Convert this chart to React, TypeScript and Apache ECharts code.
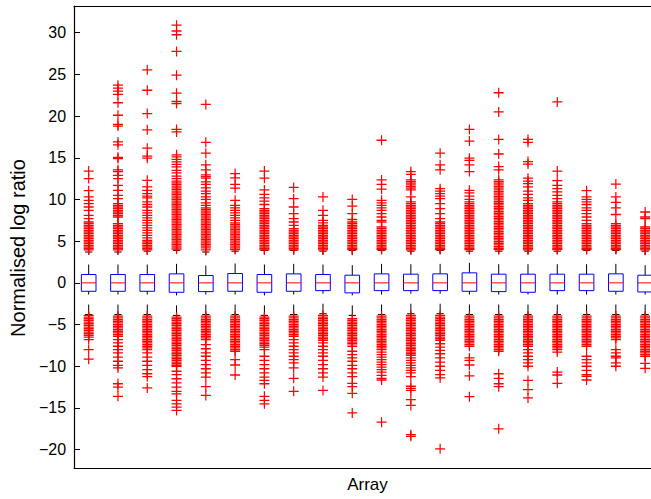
import React, { useEffect, useRef } from "react";
import * as echarts from "echarts";

// ---- data ----
const arrays = [1, 2, 3, 4, 5, 6, 7, 8, 9, 10, 11, 12, 13, 14, 15, 16, 17, 18, 19, 20];
const q1 = [-1.01, -1.01, -1.01, -1.13, -1.05, -1.01, -1.13, -1.01, -0.93, -1.2, -0.93, -0.93, -0.93, -1.01, -1.05, -1.13, -0.93, -0.93, -1.01, -1.09];
const medians = [0, 0, 0, 0, 0, 0, 0, 0, 0, 0, 0, 0, 0, 0, 0, 0, 0, 0, 0, 0];
const q3 = [1.0, 1.0, 1.0, 1.08, 0.88, 1.12, 1.0, 1.08, 1.0, 0.92, 1.08, 1.04, 1.08, 1.2, 1.04, 1.04, 1.04, 1.04, 1.08, 0.92];
const lowerWhisker = [-3.8, -3.8, -3.8, -3.9, -3.8, -3.8, -3.9, -3.8, -3.7, -3.9, -3.8, -3.7, -3.7, -3.8, -3.8, -3.8, -3.8, -3.8, -3.8, -3.8];
const upperWhisker = [3.7, 3.7, 3.8, 3.9, 3.7, 3.8, 3.9, 3.9, 3.8, 3.9, 3.9, 3.8, 3.9, 3.8, 3.8, 3.8, 3.8, 3.9, 3.9, 3.8];

const upperOutliers: number[][] = [
  [13.4, 12.5, 11.05, 10.3, 9.9, 9.5, 9.1, 8.7, 8.1, 7.7, 7.3, 7.1, 6.9, 6.7, 6.5, 6.3, 6.1, 5.9, 5.7, 5.5, 5.3, 5.1, 4.9, 4.7, 4.5, 4.3, 4.1, 3.95],
  [23.7, 23.35, 23.0, 22.6, 21.6, 20.1, 19.0, 18.8, 16.9, 16.55, 15.05, 14.9, 13.55, 13.35, 12.9, 12.5, 11.7, 11.1, 10.5, 10.1, 9.5, 9.3, 9.1, 8.9, 8.7, 8.5, 8.3, 8.1, 7.9, 7.1, 6.9, 6.7, 6.5, 6.3, 6.1, 5.9, 5.7, 5.5, 5.3, 5.1, 4.9, 4.7, 4.5, 4.3, 4.1, 3.95],
  [25.55, 23.1, 20.3, 18.35, 16.15, 15.2, 14.95, 12.3, 11.5, 11.1, 10.7, 10.4, 10.2, 9.7, 9.4, 9.1, 8.7, 8.4, 8.1, 7.8, 7.5, 7.2, 6.9, 6.6, 6.3, 6.0, 5.7, 5.4, 5.1, 4.9, 4.7, 4.5, 4.3, 4.1, 3.95],
  [30.9, 30.2, 29.75, 27.75, 24.9, 22.75, 21.75, 21.5, 18.4, 18.1, 15.35, 15.1, 14.8, 14.5, 14.2, 13.9, 13.5, 13.2, 12.8, 12.5, 12.2, 12.0, 11.8, 11.6, 11.4, 11.2, 11.0, 10.8, 10.6, 10.4, 10.2, 10.0, 9.8, 9.6, 9.4, 9.2, 9.0, 8.8, 8.6, 8.4, 8.2, 8.0, 7.8, 7.6, 7.4, 7.2, 7.0, 6.8, 6.6, 6.4, 6.2, 6.0, 5.8, 5.6, 5.4, 5.2, 5.0, 4.8, 4.6, 4.4, 4.2, 4.05],
  [21.4, 16.85, 15.55, 14.15, 13.55, 12.95, 12.75, 12.55, 12.1, 11.8, 11.4, 11.0, 10.7, 10.3, 10.0, 9.6, 9.3, 9.0, 8.8, 8.6, 8.4, 8.2, 8.0, 7.8, 7.6, 7.4, 7.2, 7.0, 6.8, 6.6, 6.4, 6.2, 6.0, 5.8, 5.6, 5.4, 5.2, 5.0, 4.8, 4.6, 4.4, 4.2, 3.95],
  [13.1, 12.6, 11.8, 11.35, 9.9, 9.3, 9.0, 8.7, 8.4, 8.1, 7.8, 7.5, 7.2, 7.0, 6.8, 6.6, 6.4, 6.2, 6.0, 5.8, 5.6, 5.4, 5.2, 5.0, 4.8, 4.6, 4.4, 4.2, 4.0],
  [13.4, 12.55, 11.15, 10.6, 10.2, 9.8, 9.4, 8.9, 8.7, 8.5, 8.3, 8.1, 7.9, 7.7, 7.5, 7.3, 7.1, 6.9, 6.7, 6.5, 6.3, 6.1, 5.9, 5.7, 5.5, 5.3, 5.1, 4.9, 4.7, 4.5, 4.3, 4.1, 3.95],
  [11.45, 10.1, 9.1, 8.3, 7.7, 7.3, 6.9, 6.5, 6.3, 6.1, 5.9, 5.7, 5.5, 5.3, 5.1, 4.9, 4.7, 4.5, 4.3, 4.1, 3.95],
  [10.3, 8.7, 8.1, 7.5, 7.2, 6.9, 6.7, 6.5, 6.3, 6.1, 5.9, 5.7, 5.5, 5.3, 5.1, 4.9, 4.7, 4.5, 4.3, 4.1, 3.95],
  [10.0, 9.2, 8.3, 7.6, 7.3, 7.1, 6.9, 6.7, 6.5, 6.3, 6.1, 5.9, 5.7, 5.5, 5.3, 5.1, 4.9, 4.7, 4.5, 4.3, 4.1, 4.0],
  [17.1, 12.35, 11.8, 11.25, 9.9, 9.6, 9.3, 9.0, 8.7, 8.3, 7.9, 7.5, 7.3, 6.7, 6.5, 6.3, 6.1, 5.9, 5.7, 5.5, 5.3, 5.1, 4.9, 4.7, 4.5, 4.3, 4.1, 4.0],
  [13.35, 13.0, 12.35, 12.15, 11.95, 11.75, 11.55, 11.35, 11.15, 10.3, 9.7, 9.5, 9.3, 9.1, 8.9, 8.7, 8.5, 8.3, 8.1, 7.9, 7.7, 7.5, 7.3, 7.1, 6.9, 6.7, 6.5, 6.3, 6.1, 5.9, 5.7, 5.5, 5.3, 5.1, 4.9, 4.7, 4.5, 4.3, 4.1, 3.95],
  [15.55, 14.15, 13.55, 11.3, 11.0, 10.7, 10.4, 10.1, 9.5, 8.9, 8.3, 7.7, 7.3, 7.1, 6.9, 6.7, 6.5, 6.3, 6.1, 5.9, 5.7, 5.5, 5.3, 5.1, 4.9, 4.7, 4.5, 4.3, 4.1, 4.0],
  [18.4, 17.0, 14.95, 14.7, 14.15, 13.35, 11.1, 10.8, 10.4, 10.0, 9.7, 9.5, 9.3, 9.1, 8.9, 8.7, 8.5, 8.3, 8.1, 7.9, 7.7, 7.5, 7.3, 7.1, 6.9, 6.7, 6.5, 6.3, 6.1, 5.9, 5.7, 5.5, 5.3, 5.1, 4.9, 4.7, 4.5, 4.3, 4.1, 4.0],
  [22.8, 20.5, 17.2, 15.45, 13.95, 13.55, 12.35, 12.15, 11.95, 11.75, 11.55, 11.35, 11.15, 10.95, 10.75, 10.55, 10.35, 10.15, 9.95, 9.75, 9.55, 9.35, 9.15, 8.95, 8.75, 8.55, 8.35, 8.15, 7.95, 7.75, 7.55, 7.35, 7.15, 6.95, 6.75, 6.55, 6.35, 6.15, 5.95, 5.75, 5.55, 5.35, 5.15, 4.95, 4.75, 4.55, 4.35, 4.15, 4.0],
  [17.2, 16.85, 14.55, 14.25, 12.55, 12.2, 11.9, 11.5, 11.0, 10.6, 10.2, 9.9, 9.5, 9.3, 9.1, 8.9, 8.7, 8.5, 8.3, 8.1, 7.9, 7.7, 7.5, 7.3, 7.1, 6.9, 6.7, 6.5, 6.3, 6.1, 5.9, 5.7, 5.5, 5.3, 5.1, 4.9, 4.7, 4.5, 4.3, 4.1, 3.95],
  [21.7, 13.4, 12.25, 11.7, 11.3, 10.9, 10.5, 10.1, 9.7, 9.5, 9.3, 9.1, 8.9, 8.7, 8.5, 8.3, 8.1, 7.9, 7.7, 7.5, 7.3, 7.1, 6.9, 6.7, 6.5, 6.3, 6.1, 5.9, 5.7, 5.5, 5.3, 5.1, 4.9, 4.7, 4.5, 4.3, 4.1, 4.0],
  [11.05, 10.3, 10.0, 9.7, 9.4, 9.0, 8.7, 8.3, 7.9, 7.5, 7.1, 6.9, 6.7, 6.5, 6.3, 6.1, 5.9, 5.7, 5.5, 5.3, 5.1, 4.9, 4.7, 4.5, 4.3, 4.1, 4.0],
  [11.85, 10.3, 9.65, 9.0, 8.2, 7.1, 6.9, 6.7, 6.5, 6.3, 6.1, 5.9, 5.7, 5.5, 5.3, 5.1, 4.9, 4.7, 4.5, 4.3, 4.1, 4.0],
  [8.5, 7.9, 7.7, 6.7, 6.5, 6.3, 6.1, 5.9, 5.7, 5.5, 5.3, 5.1, 4.9, 4.7, 4.5, 4.3, 4.1, 3.95],
];

const lowerOutliers: number[][] = [
  [-3.9, -4.1, -4.3, -4.5, -4.7, -4.9, -5.1, -5.3, -5.5, -5.7, -5.9, -6.1, -6.3, -6.5, -6.8, -8.0, -9.15],
  [-4.0, -4.2, -4.4, -4.6, -4.8, -5.0, -5.2, -5.4, -5.6, -5.8, -6.0, -6.2, -6.4, -6.8, -7.2, -7.6, -8.0, -8.4, -8.9, -9.4, -9.9, -10.2, -12.1, -12.5, -13.6],
  [-4.0, -4.2, -4.4, -4.6, -4.8, -5.0, -5.2, -5.4, -5.6, -5.8, -6.0, -6.2, -6.4, -6.6, -6.8, -7.0, -7.2, -7.4, -7.6, -7.8, -8.0, -8.4, -8.9, -9.4, -9.9, -10.4, -10.9, -11.25, -12.6],
  [-4.1, -4.3, -4.5, -4.7, -4.9, -5.1, -5.3, -5.5, -5.7, -5.9, -6.1, -6.3, -6.5, -6.7, -6.9, -7.1, -7.3, -7.5, -7.7, -7.9, -8.1, -8.3, -8.5, -8.7, -8.9, -9.1, -9.3, -9.5, -9.7, -9.9, -10.0, -10.6, -11.0, -11.5, -12.0, -12.5, -13.0, -13.3, -14.1, -14.5, -14.9, -15.3],
  [-4.0, -4.2, -4.4, -4.6, -4.8, -5.0, -5.2, -5.4, -5.6, -5.8, -6.0, -6.2, -6.4, -6.6, -6.8, -7.4, -7.9, -8.4, -8.8, -9.3, -9.8, -10.3, -10.8, -11.3, -12.45, -13.5],
  [-4.0, -4.2, -4.4, -4.6, -4.8, -5.0, -5.2, -5.4, -5.6, -5.8, -6.0, -6.2, -6.4, -6.6, -6.8, -7.0, -7.2, -7.4, -7.6, -7.8, -8.0, -8.2, -9.2, -9.85, -11.05],
  [-4.1, -4.3, -4.5, -4.7, -4.9, -5.1, -5.3, -5.5, -5.7, -5.9, -6.1, -6.3, -6.5, -6.7, -6.9, -7.1, -7.3, -7.5, -7.7, -8.0, -8.8, -9.3, -9.8, -10.3, -10.8, -11.3, -11.7, -12.1, -13.6, -14.1, -14.5],
  [-4.0, -4.2, -4.4, -4.6, -4.8, -5.0, -5.2, -5.4, -5.6, -5.8, -6.0, -6.2, -6.4, -6.8, -7.2, -7.6, -8.0, -8.4, -8.8, -9.2, -9.6, -10.2, -11.45, -13.0],
  [-3.9, -4.1, -4.3, -4.5, -4.7, -4.9, -5.1, -5.3, -5.5, -5.7, -5.9, -6.1, -6.3, -6.5, -6.7, -6.9, -7.2, -7.6, -8.0, -8.4, -8.8, -9.3, -9.8, -10.3, -10.8, -11.3, -12.9],
  [-4.3, -4.5, -4.7, -4.9, -5.1, -5.3, -5.5, -5.7, -5.9, -6.1, -6.3, -6.5, -6.7, -6.9, -7.1, -7.3, -7.6, -8.2, -8.6, -9.0, -9.4, -9.9, -10.3, -10.8, -11.25, -12.05, -12.45, -13.25, -15.6],
  [-4.0, -4.2, -4.4, -4.6, -4.8, -5.0, -5.2, -5.4, -5.6, -5.8, -6.0, -6.2, -6.4, -6.6, -6.8, -7.0, -7.2, -7.4, -7.6, -7.8, -8.0, -8.3, -8.6, -8.9, -9.2, -9.5, -9.8, -10.1, -10.4, -10.7, -11.1, -11.45, -11.65, -16.7],
  [-3.9, -4.1, -4.3, -4.5, -4.7, -4.9, -5.1, -5.3, -5.5, -5.7, -5.9, -6.1, -6.3, -6.5, -6.7, -6.9, -7.1, -7.3, -7.5, -7.7, -7.9, -8.1, -8.3, -8.5, -8.7, -9.0, -9.3, -9.6, -9.9, -10.2, -10.5, -10.8, -11.25, -12.4, -12.65, -12.9, -14.0, -14.7, -18.2, -18.4],
  [-3.9, -4.1, -4.3, -4.5, -4.7, -4.9, -5.1, -5.3, -5.5, -5.7, -5.9, -6.1, -6.3, -6.5, -6.7, -6.9, -7.3, -7.7, -8.1, -8.5, -9.0, -9.5, -10.0, -10.5, -11.0, -11.4, -19.9],
  [-4.0, -4.2, -4.4, -4.6, -4.8, -5.0, -5.2, -5.4, -5.6, -5.8, -6.0, -6.2, -6.4, -6.6, -6.8, -7.0, -7.2, -7.4, -7.6, -9.0, -9.3, -9.85, -11.15, -13.65],
  [-4.0, -4.2, -4.4, -4.6, -4.8, -5.0, -5.2, -5.4, -5.6, -5.8, -6.0, -6.2, -6.4, -6.6, -6.8, -7.0, -7.2, -7.4, -7.6, -7.8, -8.0, -8.2, -10.9, -11.45, -12.1, -12.45, -17.5],
  [-4.0, -4.2, -4.4, -4.6, -4.8, -5.0, -5.2, -5.4, -5.6, -5.8, -6.0, -6.2, -6.4, -6.6, -6.8, -7.0, -7.2, -7.4, -7.6, -8.0, -8.4, -8.8, -9.2, -9.6, -10.0, -11.7, -12.8, -13.8],
  [-4.0, -4.2, -4.4, -4.6, -4.8, -5.0, -5.2, -5.4, -5.6, -5.8, -6.0, -6.2, -6.4, -6.6, -6.8, -7.0, -7.2, -7.4, -7.6, -7.8, -8.0, -8.3, -10.7, -11.05, -12.05],
  [-4.0, -4.2, -4.4, -4.6, -4.8, -5.0, -5.2, -5.4, -5.6, -5.8, -6.0, -6.2, -6.4, -6.6, -6.8, -7.0, -7.2, -7.4, -7.6, -8.8, -9.2, -9.6, -10.0, -10.5, -11.0, -11.2, -11.65],
  [-4.0, -4.2, -4.4, -4.6, -4.8, -5.0, -5.2, -5.4, -5.6, -5.8, -6.0, -6.2, -6.4, -6.6, -6.8, -8.0, -8.4, -8.8, -9.0, -9.6, -10.0],
  [-4.0, -4.2, -4.4, -4.6, -4.8, -5.0, -5.2, -5.4, -5.6, -5.8, -6.0, -6.2, -6.4, -6.6, -6.8, -7.0, -7.2, -7.4, -7.6, -7.8, -8.0, -8.2, -8.4, -8.6, -8.8, -9.65, -10.25],
];

const yTicks = [-20, -15, -10, -5, 0, 5, 10, 15, 20, 25, 30];

const FONT = "'Liberation Sans', Arial, Helvetica, sans-serif";
const CROSS = "path://M0,4.35H10V5.65H0Z M4.4,0H5.6V10H4.4Z";

export default function App() {
  const ref = useRef<HTMLDivElement>(null);

  useEffect(() => {
    if (!ref.current) return;
    const chart = echarts.init(ref.current, undefined, { renderer: "svg" });

    const boxData = arrays.map((a, i) => [a, q1[i], medians[i], q3[i], lowerWhisker[i], upperWhisker[i]]);
    const outlierData: number[][] = [];
    arrays.forEach((a, i) => {
      upperOutliers[i].forEach((v) => outlierData.push([a, v]));
      lowerOutliers[i].forEach((v) => outlierData.push([a, v]));
    });

    const renderBox = (params: any, api: any) => {
      const x = api.value(0);
      const vq1 = api.value(1);
      const vmed = api.value(2);
      const vq3 = api.value(3);
      const vlw = api.value(4);
      const vuw = api.value(5);
      const tl = api.coord([x - 0.25, vq3]);
      const br = api.coord([x + 0.25, vq1]);
      const cx = api.coord([x, 0])[0];
      const yOf = (v: number) => api.coord([x, v])[1];
      const capL = api.coord([x - 0.125, 0])[0];
      const capR = api.coord([x + 0.125, 0])[0];
      const wStyle = { stroke: "#000", lineWidth: 1, lineDash: [10, 10] };
      return {
        type: "group",
        children: [
          { type: "line", shape: { x1: cx, y1: tl[1], x2: cx, y2: yOf(vuw) }, style: wStyle },
          { type: "line", shape: { x1: cx, y1: yOf(vlw), x2: cx, y2: br[1] }, style: wStyle },
          { type: "line", shape: { x1: capL, y1: yOf(vuw), x2: capR, y2: yOf(vuw) }, style: { stroke: "#000", lineWidth: 1 } },
          { type: "line", shape: { x1: capL, y1: yOf(vlw), x2: capR, y2: yOf(vlw) }, style: { stroke: "#000", lineWidth: 1 } },
          {
            type: "rect",
            shape: { x: tl[0], y: tl[1], width: br[0] - tl[0], height: br[1] - tl[1] },
            style: { fill: "none", stroke: "#0000ff", lineWidth: 1 },
          },
          { type: "line", shape: { x1: tl[0], y1: yOf(vmed), x2: br[0], y2: yOf(vmed) }, style: { stroke: "#ff0000", lineWidth: 1 } },
        ],
      };
    };

    chart.setOption({
      animation: false,
      backgroundColor: "#ffffff",
      textStyle: { fontFamily: FONT },
      grid: { left: 73, right: 0, top: 6, bottom: 31, containLabel: false },
      xAxis: [
        {
          type: "value",
          min: 0.5,
          max: 20.2,
          position: "bottom",
          name: "Array",
          nameLocation: "middle",
          nameGap: 8,
          nameTextStyle: { fontSize: 17, color: "#000", fontFamily: FONT, padding: [0, 0, 0, 10], verticalAlign: "top" },
          axisLine: { show: true, onZero: false, lineStyle: { color: "#000", width: 1.2 } },
          axisTick: { show: false },
          axisLabel: { show: false },
          splitLine: { show: false },
        },
        {
          type: "value",
          min: 0.5,
          max: 20.2,
          position: "top",
          axisLine: { show: true, onZero: false, lineStyle: { color: "#000", width: 1.2 } },
          axisTick: { show: false },
          axisLabel: { show: false },
          splitLine: { show: false },
        },
      ],
      yAxis: {
        type: "value",
        min: -22.2,
        max: 33.2,
        name: "Normalised log ratio",
        nameLocation: "middle",
        nameGap: 40,
        nameTextStyle: { fontSize: 20, color: "#000", fontFamily: FONT, padding: [0, 22, 0, 0] },
        axisLine: { show: true, onZero: false, lineStyle: { color: "#000", width: 1.2 } },
        axisTick: { show: true, inside: true, length: 6, customValues: yTicks, lineStyle: { color: "#000" } },
        axisLabel: {
          show: true,
          customValues: yTicks,
          margin: 8,
          fontSize: 16,
          color: "#000",
          fontFamily: FONT,
          formatter: (v: number) => String(v).replace("-", "\u2212"),
        },
        splitLine: { show: false },
      },
      series: [
        {
          type: "custom",
          name: "boxes",
          renderItem: renderBox,
          data: boxData,
          encode: { x: 0, y: [1, 2, 3, 4, 5] },
          clip: true,
          z: 1,
        },
        {
          type: "scatter",
          name: "outliers",
          data: outlierData,
          symbol: CROSS,
          symbolSize: 10,
          itemStyle: { color: "#ff0000", opacity: 1 },
          clip: true,
          z: 2,
        },
      ],
    });

    return () => chart.dispose();
  }, []);

  return (
    <div
      ref={ref}
      style={{ position: "fixed", left: 0, top: 0, width: 651, height: 499, background: "#fff" }}
    />
  );
}
